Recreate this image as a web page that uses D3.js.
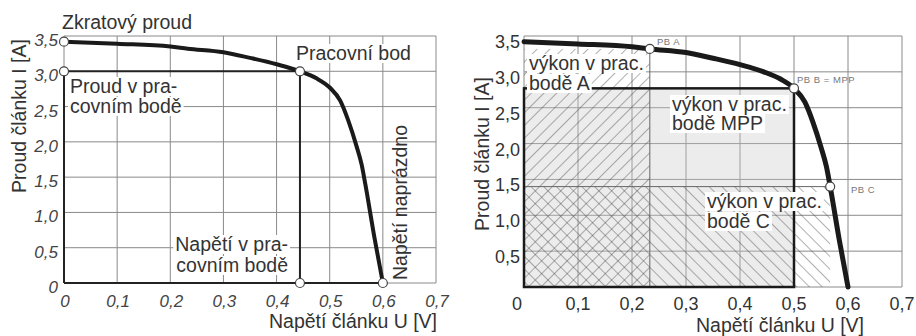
<!DOCTYPE html>
<html>
<head>
<meta charset="utf-8">
<script src="https://cdn.jsdelivr.net/npm/d3@7"></script>
<style>
  body { margin: 0; background: #fff; }
  svg { font-family: "Liberation Sans", Arial, sans-serif; }
  .grid line { stroke: #8a8a8a; stroke-width: 1; }
  .lbl { fill: #333; font-size: 19.5px; }
  .tick-l { fill: #444; font-size: 17px; font-style: italic; }
  .tick-r { fill: #333; font-size: 18px; }
  .small { fill: #777; font-size: 9.5px; letter-spacing: 0.5px; }
</style>
</head>
<body>
<svg id="chart" width="916" height="336"></svg>
<script>
// ticks of both axes
const uTicks = [0, 0.1, 0.2, 0.3, 0.4, 0.5, 0.6, 0.7];
const iTicks = [0, 0.5, 1.0, 1.5, 2.0, 2.5, 3.0, 3.5];
const fmt = d => d === 0 ? '0' : d.toFixed(1).replace('.', ',');

// I-U characteristic of the cell
const curveU = [0, 0.1, 0.2, 0.233, 0.3, 0.35, 0.4, 0.444, 0.475, 0.5, 0.52, 0.535, 0.55, 0.56, 0.567, 0.584, 0.6];
const curveI = [3.42, 3.39, 3.35, 3.32, 3.27, 3.19, 3.10, 3.0, 2.90, 2.77, 2.58, 2.30, 1.95, 1.68, 1.40, 0.65, 0];

// special points
const iSc = 3.42;            // zkratovy proud
const uOc = 0.6;             // napeti naprazdno
const workPoint = [0.444, 3.0];
const pbA = [0.233, 3.32];
const pbB = [0.5, 2.77];     // MPP
const pbC = [0.567, 1.40];

const curveData = curveU.map((u, k) => ({u: u, i: curveI[k]}));

const svg = d3.select('#chart');

// hatch patterns
const defs = svg.append('defs');
function hatch(id, angle) {
    const p = defs.append('pattern')
        .attr('id', id)
        .attr('patternUnits', 'userSpaceOnUse')
        .attr('width', 9).attr('height', 9)
        .attr('patternTransform', `rotate(${angle})`);
    p.append('line')
        .attr('x1', 0).attr('y1', 0).attr('x2', 0).attr('y2', 9)
        .attr('stroke', '#3a3a3a').attr('stroke-width', 0.8);
}
hatch('hatchA', 45);
hatch('hatchC', -45);

// draws grid for one panel, returns scales
function panel(x0, x1, yBottom, yTop) {
    const x = d3.scaleLinear().domain([0, 0.7]).range([x0, x1]);
    const y = d3.scaleLinear().domain([0, 3.5]).range([yBottom, yTop]);
    const g = svg.append('g');
    const grid = g.append('g').attr('class', 'grid');
    grid.selectAll('.vx').data(uTicks).join('line')
        .attr('x1', d => x(d)).attr('x2', d => x(d))
        .attr('y1', y(0)).attr('y2', y(3.5));
    grid.selectAll('.hy').data(iTicks).join('line')
        .attr('x1', x(0)).attr('x2', x(0.7))
        .attr('y1', d => y(d)).attr('y2', d => y(d));
    return {x, y, g};
}

function drawCurve(p, width) {
    const line = d3.line()
        .x(d => p.x(d.u)).y(d => p.y(d.i))
        .curve(d3.curveMonotoneX);
    p.g.append('path')
        .datum(curveData)
        .attr('d', line)
        .attr('fill', 'none')
        .attr('stroke', '#1a1a1a')
        .attr('stroke-width', width)
        .attr('stroke-linecap', 'round');
}

function circle(p, u, i) {
    p.g.append('circle')
        .attr('cx', p.x(u)).attr('cy', p.y(i)).attr('r', 4.5)
        .attr('fill', '#fff').attr('stroke', '#444').attr('stroke-width', 1.2);
}

// text lines with a white box behind each line
function textBox(g, x, y, lines, anchor, cls, lh) {
    const t = g.append('g');
    lines.forEach((s, k) => {
        const el = t.append('text')
            .attr('class', cls)
            .attr('x', x).attr('y', y + k * lh)
            .attr('text-anchor', anchor)
            .text(s);
        const b = el.node().getBBox();
        t.insert('rect', 'text')
            .attr('x', b.x - 2).attr('y', b.y + 2)
            .attr('width', b.width + 4).attr('height', b.height - 3)
            .attr('fill', '#fff');
    });
}

// ---------- left panel ----------
const L = panel(64, 436, 283, 36);

// thick axes and work point lines
L.g.append('line').attr('x1', L.x(0)).attr('x2', L.x(0)).attr('y1', L.y(0)).attr('y2', L.y(workPoint[1]))
    .attr('stroke', '#222').attr('stroke-width', 2);
L.g.append('line').attr('x1', L.x(0)).attr('x2', L.x(uOc)).attr('y1', L.y(0)).attr('y2', L.y(0))
    .attr('stroke', '#222').attr('stroke-width', 2);
L.g.append('line').attr('x1', L.x(0)).attr('x2', L.x(workPoint[0])).attr('y1', L.y(workPoint[1])).attr('y2', L.y(workPoint[1]))
    .attr('stroke', '#222').attr('stroke-width', 2);
L.g.append('line').attr('x1', L.x(workPoint[0])).attr('x2', L.x(workPoint[0])).attr('y1', L.y(0)).attr('y2', L.y(workPoint[1]))
    .attr('stroke', '#222').attr('stroke-width', 2);

textBox(L.g, 70, 93, ['Proud v pra-', 'covním bodě'], 'start', 'lbl', 20);
textBox(L.g, 288, 251, ['Napětí v pra-', 'covním bodě'], 'end', 'lbl', 21);

drawCurve(L, 4);
circle(L, 0, iSc);
circle(L, 0, workPoint[1]);
circle(L, workPoint[0], workPoint[1]);
circle(L, workPoint[0], 0);
circle(L, uOc, 0);

L.g.append('text').attr('class', 'lbl').attr('x', 62).attr('y', 29).text('Zkratový proud');
textBox(L.g, 296, 60, ['Pracovní bod'], 'start', 'lbl', 20);
L.g.append('text').attr('class', 'lbl')
    .attr('transform', `translate(407,280) rotate(-90)`)
    .text('Napětí naprázdno');

L.g.selectAll('.ty').data(iTicks).join('text')
    .attr('class', 'tick-l').attr('text-anchor', 'end')
    .attr('x', 58).attr('y', d => L.y(d) + 10)
    .text(fmt);
L.g.selectAll('.tx').data(uTicks).join('text')
    .attr('class', 'tick-l').attr('text-anchor', 'middle')
    .attr('x', d => L.x(d) + 1).attr('y', 307)
    .text(fmt);
L.g.append('text').attr('class', 'lbl').attr('text-anchor', 'end')
    .attr('x', 437).attr('y', 328).text('Napětí článku U [V]');
L.g.append('text').attr('class', 'lbl').attr('text-anchor', 'middle')
    .attr('transform', 'translate(26,116) rotate(-90)')
    .text('Proud článku I [A]');

// ---------- right panel ----------
const R = panel(524, 902, 287, 36);

// power rectangles
const rx = R.x, ry = R.y;
R.g.append('rect')
    .attr('x', rx(0)).attr('y', ry(pbB[1]))
    .attr('width', rx(pbB[0]) - rx(0)).attr('height', ry(0) - ry(pbB[1]))
    .attr('fill', '#c8c8c8').attr('fill-opacity', 0.35);
R.g.append('rect')
    .attr('x', rx(0)).attr('y', ry(pbA[1]))
    .attr('width', rx(pbA[0]) - rx(0)).attr('height', ry(0) - ry(pbA[1]))
    .attr('fill', 'url(#hatchA)');
R.g.append('rect')
    .attr('x', rx(0)).attr('y', ry(pbC[1]))
    .attr('width', rx(pbC[0]) - rx(0)).attr('height', ry(0) - ry(pbC[1]))
    .attr('fill', 'url(#hatchC)');
R.g.append('line').attr('x1', rx(pbA[0])).attr('x2', rx(pbA[0])).attr('y1', ry(0)).attr('y2', ry(pbA[1]))
    .attr('stroke', '#666').attr('stroke-width', 1);
R.g.append('line').attr('x1', rx(0)).attr('x2', rx(pbC[0])).attr('y1', ry(pbC[1])).attr('y2', ry(pbC[1]))
    .attr('stroke', '#666').attr('stroke-width', 1);
// MPP rectangle outline
R.g.append('rect')
    .attr('x', rx(0)).attr('y', ry(pbB[1]))
    .attr('width', rx(pbB[0]) - rx(0)).attr('height', ry(0) - ry(pbB[1]))
    .attr('fill', 'none').attr('stroke', '#1a1a1a').attr('stroke-width', 2.5);

textBox(R.g, 529, 70, ['výkon v prac.', 'bodě A'], 'start', 'lbl', 20);
textBox(R.g, 672, 111, ['výkon v prac.', 'bodě MPP'], 'start', 'lbl', 19);
textBox(R.g, 707, 208, ['výkon v prac.', 'bodě C'], 'start', 'lbl', 20);

drawCurve(R, 5);
circle(R, pbA[0], pbA[1]);
circle(R, pbB[0], pbB[1]);
circle(R, pbC[0], pbC[1]);

R.g.append('text').attr('class', 'small').attr('x', 657).attr('y', 45).text('PB A');
R.g.append('text').attr('class', 'small').attr('x', 797).attr('y', 83).text('PB B = MPP');
R.g.append('text').attr('class', 'small').attr('x', 851).attr('y', 193).text('PB C');

R.g.selectAll('.ty').data(iTicks.filter(d => d > 0)).join('text')
    .attr('class', 'tick-r').attr('text-anchor', 'end')
    .attr('x', 520).attr('y', d => ry(d) + 12)
    .text(fmt);
R.g.selectAll('.tx').data(uTicks).join('text')
    .attr('class', 'tick-r').attr('text-anchor', 'middle')
    .attr('x', d => d === 0 ? rx(d) - 7 : rx(d)).attr('y', 310)
    .text(fmt);
R.g.append('text').attr('class', 'lbl').attr('text-anchor', 'middle')
    .attr('x', 780).attr('y', 332).text('Napětí článku U [V]');
R.g.append('text').attr('class', 'lbl').attr('text-anchor', 'middle')
    .attr('transform', 'translate(489,154) rotate(-90)')
    .text('Proud článku I [A]');
</script>
</body>
</html>
